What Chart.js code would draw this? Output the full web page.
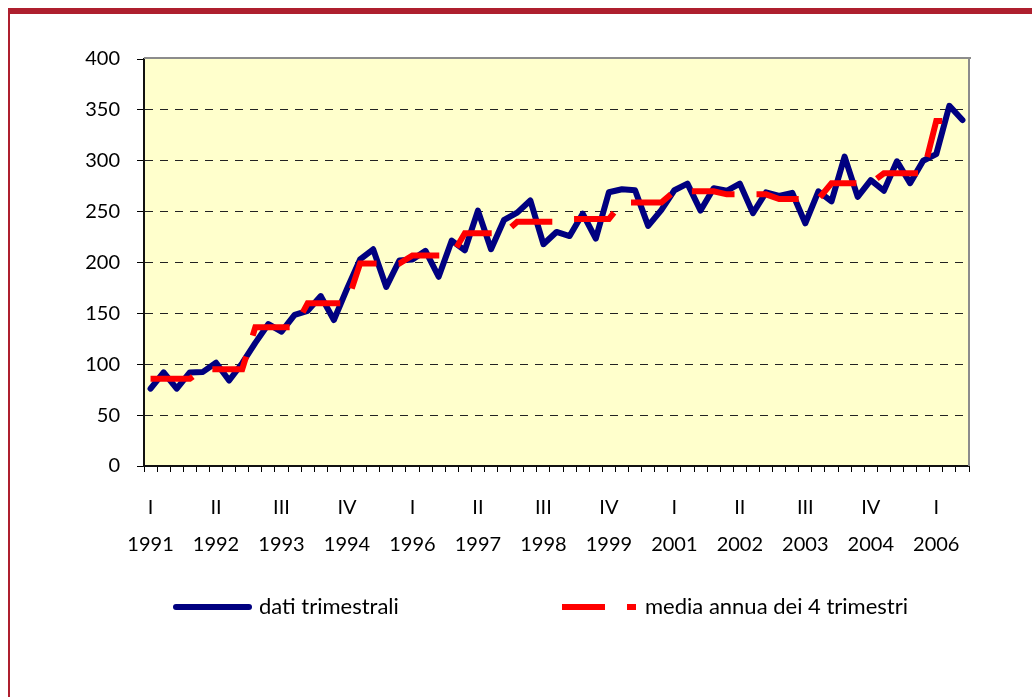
<!DOCTYPE html>
<html><head><meta charset="utf-8">
<script src="https://cdn.jsdelivr.net/npm/chart.js@4.4.0/dist/chart.umd.min.js"></script>
<style>
html,body{margin:0;padding:0;background:#fff;}
#wrap{position:relative;width:1032px;height:697px;overflow:hidden;background:#fff;}
#frame{position:absolute;left:8px;top:8px;right:0;bottom:0;border-top:6px solid #AE1F2E;border-left:2px solid #AE1F2E;}
canvas{position:absolute;left:0;top:0;}
</style></head>
<body><div id="wrap"><div id="frame"></div><canvas id="c" width="1032" height="697"></canvas></div>
<script>
// ---- data ----
const years = [1991,1992,1993,1994,1995,1996,1997,1998,1999,2000,2001,2002,2003,2004,2005,2006];
const quarterNames = ['I','II','III','IV'];
const nQuarters = 63; // 1991 Q1 .. 2006 Q3

const quarterlyData = [
  76, 92, 76, 92,
  92.5, 101.5, 84, 101,
  121, 139.5, 132, 148.5,
  152.5, 167, 143.5, 174,
  203, 213, 176, 202,
  203, 211.5, 186, 221.5,
  212, 251, 213, 242,
  249, 261, 218, 230,
  226, 248, 223.5, 269,
  272, 271, 236, 251.5,
  271, 277.5, 251, 273,
  270.5, 277.5, 248.5, 269,
  265.5, 268.5, 238.5, 270,
  260, 304, 264.5, 281,
  270.5, 299.5, 278, 300,
  306.5, 354, 340
];

const annualMean = [
  85.7, 85.7, 85.7, 85.7,
  95.2, 95.2, 95.2, 95.2,
  136.3, 136.3, 136.3, 136.3,
  160, 160, 160, 160,
  199, 199, 199, 199,
  207, 207, 207, 207,
  228.7, 228.7, 228.7, 228.7,
  240.1, 240.1, 240.1, 240.1,
  242.7, 242.7, 242.7, 242.7,
  259, 259, 259, 259,
  270, 270, 270, 270,
  267, 267, 267, 267,
  262.4, 262.4, 262.4, 262.4,
  277.8, 277.8, 277.8, 277.8,
  287.6, 287.6, 287.6, 287.6,
  339, 339, 339
];

const yTicks = [0, 50, 100, 150, 200, 250, 300, 350, 400];
const labelEvery = 5;

const categories = [];
for (let i = 0; i < nQuarters; i++) {
  categories.push([quarterNames[i % 4], String(years[Math.floor(i / 4)])]);
}

// ---- plugins (background, frame, legend) ----
const plotBg = {
  id: 'plotBg',
  beforeDraw(chart) {
    const {ctx, chartArea: a} = chart;
    ctx.save();
    ctx.fillStyle = '#FFFFCC';
    ctx.fillRect(a.left, a.top, a.right - a.left, a.bottom - a.top);
    ctx.restore();
  },
  beforeDatasetsDraw(chart) {
    const {ctx, chartArea: a} = chart;
    ctx.save();
    ctx.fillStyle = '#8C8C8C';
    ctx.fillRect(a.left, a.top - 2, a.right - a.left + 2, 2);
    ctx.fillRect(a.right - 1, a.top - 2, 2, a.bottom - a.top + 2);
    ctx.restore();
  }
};

const customLegend = {
  id: 'customLegend',
  afterDraw(chart) {
    const ctx = chart.ctx;
    const ds = chart.data.datasets;
    const y = 607;
    const items = [
      {d: ds[1], x0: 176, x1: 249, tx: 259, cap: 'round', dash: []},
      {d: ds[0], x0: 562, x1: 636, tx: 645, cap: 'butt', dash: ds[0].borderDash}
    ];
    ctx.save();
    items.forEach(it => {
      ctx.beginPath();
      ctx.lineWidth = it.d.borderWidth;
      ctx.strokeStyle = it.d.borderColor;
      ctx.lineCap = it.cap;
      ctx.setLineDash(it.dash);
      ctx.moveTo(it.x0, y);
      ctx.lineTo(it.x1, y);
      ctx.stroke();
      ctx.setLineDash([]);
      ctx.fillStyle = '#000';
      ctx.font = '22px Lato';
      ctx.textBaseline = 'middle';
      ctx.textAlign = 'left';
      ctx.fillText(it.d.label, it.tx, y);
    });
    ctx.restore();
  }
};

new Chart(document.getElementById('c'), {
  type: 'line',
  data: {
    labels: categories,
    datasets: [
      {
        label: 'media annua dei 4 trimestri',
        data: annualMean,
        borderColor: '#FF0000',
        borderWidth: 6,
        borderDash: [43, 22],
        borderCapStyle: 'butt',
        borderJoinStyle: 'miter',
        pointRadius: 0,
        tension: 0,
        order: 1
      },
      {
        label: 'dati trimestrali',
        data: quarterlyData,
        borderColor: '#000080',
        borderWidth: 6,
        borderCapStyle: 'round',
        borderJoinStyle: 'round',
        pointRadius: 0,
        tension: 0,
        order: 2
      }
    ]
  },
  options: {
    responsive: false,
    animation: false,
    devicePixelRatio: 1,
    layout: {padding: {left: 0, top: 59, right: 63, bottom: 131}},
    plugins: {legend: {display: false}, tooltip: {enabled: false}},
    scales: {
      x: {
        offset: true,
        afterFit(s) { s.height = 100; },
        grid: {
          offset: true,
          drawOnChartArea: false,
          drawTicks: true,
          tickLength: 6,
          tickColor: '#000',
          color: '#000',
          lineWidth: 1
        },
        border: {display: true, color: '#111', width: 2},
        ticks: {
          autoSkip: false,
          maxRotation: 0,
          minRotation: 0,
          padding: 17.5,
          color: '#000',
          font: {family: 'Lato', size: 20, lineHeight: 1.85},
          callback: (v, i) => (i % labelEvery === 0 ? categories[i] : '')
        }
      },
      y: {
        min: 0,
        max: 400,
        afterFit(s) { s.width = 144; },
        afterBuildTicks(s) { s.ticks = yTicks.map(v => ({value: v})); },
        grid: {
          drawTicks: true,
          tickLength: 7,
          tickColor: '#000',
          lineWidth: 1,
          color: c => (c.tick && (c.tick.value === 0 || c.tick.value === 400)) ? 'rgba(0,0,0,0)' : '#222'
        },
        border: {display: true, color: '#111', width: 2, dash: [8, 7]},
        ticks: {
          padding: 17,
          color: '#000',
          font: {family: 'Lato', size: 20}
        }
      }
    }
  },
  plugins: [plotBg, customLegend]
});
</script>
</body></html>
